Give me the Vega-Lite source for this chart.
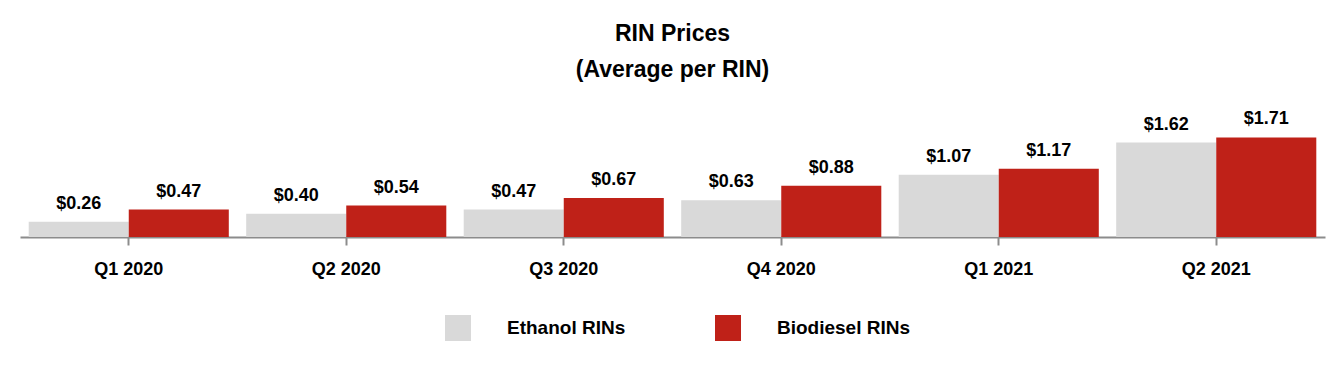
{
  "$schema": "https://vega.github.io/schema/vega-lite/v6.json",
  "width": 1305,
  "height": 127,
  "padding": {"left": 20, "right": 19, "top": 23, "bottom": 5},
  "background": "white",
  "config": {"view": {"stroke": null}, "font": "Liberation Sans"},
  "title": {
    "text": ["RIN Prices", "(Average per RIN)"],
    "fontSize": 23,
    "lineHeight": 36,
    "font": "Liberation Sans",
    "fontWeight": "bold",
    "color": "black",
    "anchor": "middle",
    "offset": 28
  },
  "data": {
    "values": [
      {"quarter": "Q1 2020", "type": "Ethanol RINs", "price": 0.26},
      {"quarter": "Q1 2020", "type": "Biodiesel RINs", "price": 0.47},
      {"quarter": "Q2 2020", "type": "Ethanol RINs", "price": 0.40},
      {"quarter": "Q2 2020", "type": "Biodiesel RINs", "price": 0.54},
      {"quarter": "Q3 2020", "type": "Ethanol RINs", "price": 0.47},
      {"quarter": "Q3 2020", "type": "Biodiesel RINs", "price": 0.67},
      {"quarter": "Q4 2020", "type": "Ethanol RINs", "price": 0.63},
      {"quarter": "Q4 2020", "type": "Biodiesel RINs", "price": 0.88},
      {"quarter": "Q1 2021", "type": "Ethanol RINs", "price": 1.07},
      {"quarter": "Q1 2021", "type": "Biodiesel RINs", "price": 1.17},
      {"quarter": "Q2 2021", "type": "Ethanol RINs", "price": 1.62},
      {"quarter": "Q2 2021", "type": "Biodiesel RINs", "price": 1.71}
    ]
  },
  "encoding": {
    "x": {
      "field": "quarter",
      "type": "nominal",
      "sort": null,
      "scale": {"paddingInner": 0.08, "paddingOuter": 0.04},
      "axis": {
        "title": null,
        "labelAngle": 0,
        "labelFont": "Liberation Sans",
        "labelFontSize": 18,
        "labelFontWeight": "bold",
        "labelColor": "black",
        "labelPadding": 15,
        "domainColor": "#8c8c8c",
        "domainWidth": 2,
        "tickColor": "#8c8c8c",
        "tickSize": 8,
        "tickWidth": 2
      }
    },
    "xOffset": {"field": "type", "type": "nominal", "sort": ["Ethanol RINs", "Biodiesel RINs"], "scale": {"paddingInner": 0}},
    "y": {
      "field": "price",
      "type": "quantitative",
      "scale": {"domain": [0, 2.18]},
      "axis": null
    }
  },
  "layer": [
    {
      "mark": {"type": "bar"},
      "encoding": {
        "color": {
          "field": "type",
          "type": "nominal",
          "sort": ["Ethanol RINs", "Biodiesel RINs"],
          "scale": {"domain": ["Ethanol RINs", "Biodiesel RINs"], "range": ["#D9D9D9", "#BF2118"]},
          "legend": {
            "title": null,
            "orient": "none",
            "legendX": 425,
            "legendY": 205,
            "direction": "horizontal",
            "symbolType": "square",
            "symbolSize": 676,
            "symbolStrokeWidth": 0,
            "labelFont": "Liberation Sans",
            "labelFontSize": 19,
            "labelFontWeight": "bold",
            "labelColor": "black",
            "labelOffset": 36,
            "columnPadding": 89
          }
        }
      }
    },
    {
      "mark": {"type": "text", "baseline": "bottom", "dy": -9, "fontSize": 18, "fontWeight": "bold", "font": "Liberation Sans", "color": "black"},
      "encoding": {
        "text": {"field": "price", "type": "quantitative", "format": "$.2f"}
      }
    }
  ]
}
